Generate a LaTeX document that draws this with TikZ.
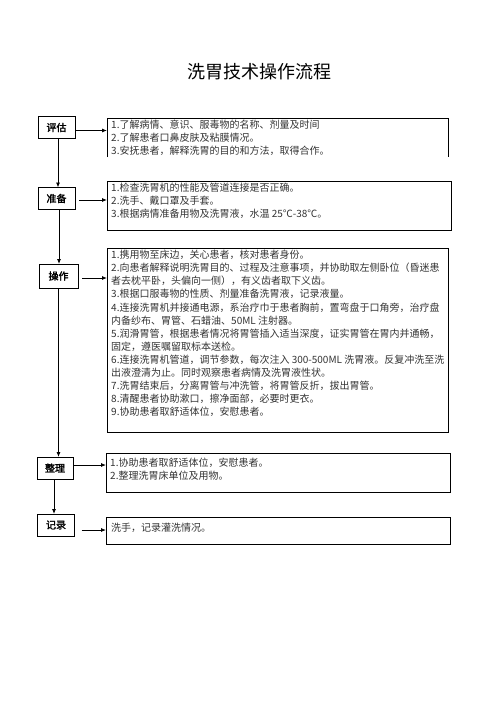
\documentclass[tikz,border=0pt]{standalone}
\usepackage{fontspec}
\setmainfont{Liberation Serif}
\newfontfamily\cjk{Noto Sans CJK SC}
\newfontfamily\cjkb[FakeBold=2]{Noto Sans CJK SC}
\usetikzlibrary{arrows.meta, positioning, calc}
\tikzset{stage/.style={draw, line width=1pt, minimum width=37pt, minimum height=22pt, inner sep=0pt, outer sep=0pt, font={\cjkb\fontsize{10}{12}\selectfont}}}
\tikzset{tbox/.style={draw, line width=1pt, anchor=north west, inner sep=0pt, outer sep=0pt}}
\tikzset{txt/.style={anchor=north west, align=left, inner sep=0pt, text=black!80, font={\cjk\fontsize{10}{13.1}\selectfont}}}
\tikzset{arr/.style={draw, -{Latex[length=5pt, width=4pt]}, line width=0.8pt}}

\begin{document}
\begin{tikzpicture}[x=1pt, y=-1pt]
	\useasboundingbox (0,0) rectangle (496,702);
	\node[font={\cjk\fontsize{18}{20}\selectfont}] (title) at (259,72) {洗胃技术操作流程};
	
	% stages on the left
	\node[stage] (pg) at (56.5,127.5) {评估};
	\node[stage] (zb) at (56.5,198.5) {准备};
	\node[stage, minimum width=39pt, minimum height=24pt] (cz) at (58.5,276) {操作};
	\node[stage, minimum width=36pt] (zl) at (55,468) {整理};
	\node[stage] (jl) at (56,525) {记录};
	
	% boxes on the right
	\node[tbox, draw=none, minimum width=341pt, minimum height=39pt] (b1) at (107,118) {};
	\draw[line width=1pt] (b1.south west) -- (b1.north west) -- (b1.north east) -- (b1.south east);
	\node[tbox, minimum width=344pt, minimum height=49pt] (b2) at (107,181) {};
	\node[tbox, minimum width=341pt, minimum height=184pt] (b3) at (107,248) {};
	\node[tbox, minimum width=344pt, minimum height=39pt] (b4) at (106,453) {};
	\node[tbox, minimum width=344pt, minimum height=27pt] (b5) at (106,517) {};
	
	\node[txt] (t1) at ([xshift=4pt, yshift=-2pt]b1.north west) {1.了解病情、意识、服毒物的名称、剂量及时间\\2.了解患者口鼻皮肤及粘膜情况。\\3.安抚患者，解释洗胃的目的和方法，取得合作。};
	\node[txt] (t2) at ([xshift=4pt, yshift=-2pt]b2.north west) {1.检查洗胃机的性能及管道连接是否正确。\\2.洗手、戴口罩及手套。\\3.根据病情准备用物及洗胃液，水温 25℃-38℃。};
	\node[txt] (t3) at ([xshift=4pt, yshift=-2pt]b3.north west) {1.携用物至床边，关心患者，核对患者身份。\\
		2.向患者解释说明洗胃目的、过程及注意事项，并协助取左侧卧位（昏迷患\\
		者去枕平卧，头偏向一侧），有义齿者取下义齿。\\
		3.根据口服毒物的性质、剂量准备洗胃液，记录液量。\\
		4.连接洗胃机并接通电源，系治疗巾于患者胸前，置弯盘于口角旁，治疗盘\\
		内备纱布、胃管、石蜡油、50ML 注射器。\\
		5.润滑胃管，根据患者情况将胃管插入适当深度，证实胃管在胃内并通畅，\\
		固定，遵医嘱留取标本送检。\\
		6.连接洗胃机管道，调节参数，每次注入 300-500ML 洗胃液。反复冲洗至洗\\
		出液澄清为止。同时观察患者病情及洗胃液性状。\\
		7.洗胃结束后，分离胃管与冲洗管，将胃管反折，拔出胃管。\\
		8.清醒患者协助漱口，擦净面部，必要时更衣。\\
		9.协助患者取舒适体位，安慰患者。};
	\node[txt] (t4) at ([xshift=4pt, yshift=-5pt]b4.north west) {1.协助患者取舒适体位，安慰患者。\\2.整理洗胃床单位及用物。};
	\node[txt] (t5) at ([xshift=5pt, yshift=-6pt]b5.north west) {洗手，记录灌洗情况。};
	
	% arrows
	\draw[arr] ([yshift=-3pt]pg.east) -- ([yshift=-3pt]pg.east -| b1.west);
	\draw[arr, shorten <=4pt] ([yshift=-1.5pt]zb.east) -- ([yshift=-1.5pt]zb.east -| b2.west);
	\draw[arr, shorten <=4pt] ([yshift=-2pt]cz.east) -- ([yshift=-2pt]cz.east -| b3.west);
	\draw[arr] ([yshift=3pt]zl.east) -- ([yshift=3pt]zl.east -| b4.west);
	\draw[arr, shorten <=7pt] ([yshift=-5pt]jl.east) -- ([yshift=-5pt]jl.east -| b5.west);
	
	\draw[arr] ([xshift=1.5pt]pg.south) -- ([xshift=1.5pt]pg.south |- zb.north);
	\draw[arr] ([xshift=2.5pt]zb.south) -- ([xshift=2.5pt]zb.south |- cz.north);
	\draw[arr] (cz.south) -- (cz.south |- zl.north);
	\draw[arr] ([xshift=-1pt]zl.south) -- ([xshift=-1pt]zl.south |- jl.north);
\end{tikzpicture}
\end{document}
